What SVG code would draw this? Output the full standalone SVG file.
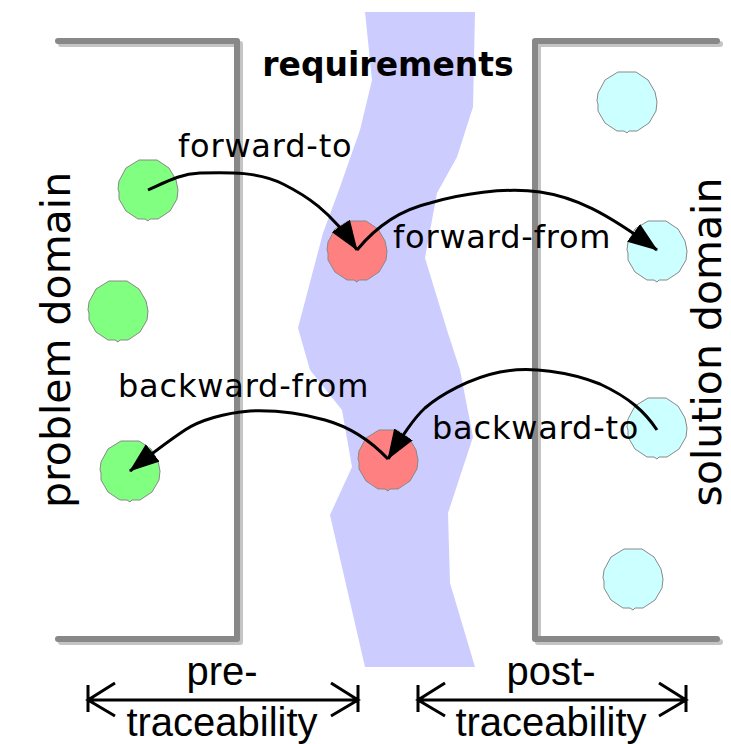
<svg xmlns="http://www.w3.org/2000/svg" width="731" height="744" viewBox="0 0 731 744">
<style>
.bracket{fill:none;stroke:#888;stroke-width:6;stroke-linecap:round;stroke-linejoin:round}
.shadow{fill:none;stroke:#c4c4c4;stroke-width:6;stroke-linecap:round;stroke-linejoin:round}
.conn{fill:none;stroke:#000;stroke-width:3}
.dim{fill:none;stroke:#000;stroke-width:3}
.lbl{font-family:"DejaVu Sans",Verdana,sans-serif;font-size:32px;letter-spacing:0.8px;fill:#000}
.side{font-family:"DejaVu Sans",Verdana,sans-serif;font-size:41px;fill:#000;text-anchor:middle}
.dimt{font-family:"Liberation Sans",Arial,sans-serif;font-size:40px;fill:#000;text-anchor:middle}
.green{fill:#80ff80}
.red{fill:#ff8080}
.cyan{fill:#ccffff}
</style>
<defs>
<path id="blob" stroke="#888" stroke-width="1" d="M-9,-30 L9,-30 L21,-22 L28,-10 L30,0 L29,9 L22,21 L10,29 L2,29 L0,31 L-3,29 L-10,29 L-22,21 L-29,9 L-29,2 L-30,-1 L-29,-9 L-22,-22 Z"/>
<marker id="ah" markerUnits="userSpaceOnUse" markerWidth="32" markerHeight="24" refX="29" refY="11" orient="auto">
<path d="M0,0 L30,11 L0,22 Z" fill="#000"/>
</marker>
</defs>
<g id="river">
<polygon fill="#ccccff" points="365,12 475,12 473,107 457,157 437,193 425,258 447,330 460,370 473,437 448,513 450,583 475,667 365,667 330,515 352,467 342,410 310,370 298,328 323,233 340,187 360,130 372,80"/>
</g>
<g id="problem-domain-frame">
<path class="shadow" d="M61,44 H240 V642 H61"/>
<path class="bracket" d="M58,41 H237 V639 H58"/>
</g>
<g id="solution-domain-frame">
<path class="shadow" d="M720,44 H538 V642 H720"/>
<path class="bracket" d="M717,41 H535 V639 H717"/>
</g>
<g id="title">
<text x="388" y="76" font-family="DejaVu Sans,Verdana,sans-serif" font-size="33" font-weight="bold" text-anchor="middle">requirements</text>
</g>
<g id="side-labels">
<text class="side" transform="translate(70,340) rotate(-90)">problem domain</text>
<text class="side" transform="translate(721,342) rotate(-90)">solution domain</text>
</g>
<g id="p1"><use href="#blob" class="green" x="148" y="190"/></g>
<g id="p2"><use href="#blob" class="green" x="118" y="311"/></g>
<g id="p3"><use href="#blob" class="green" x="130" y="471"/></g>
<g id="r1"><use href="#blob" class="red" x="357" y="251"/></g>
<g id="r2"><use href="#blob" class="red" x="388" y="460"/></g>
<g id="s1"><use href="#blob" class="cyan" x="627" y="102"/></g>
<g id="s2"><use href="#blob" class="cyan" x="657" y="251"/></g>
<g id="s3"><use href="#blob" class="cyan" x="657" y="428"/></g>
<g id="s4"><use href="#blob" class="cyan" x="633" y="579"/></g>
<g id="connectors">
<path class="conn" marker-end="url(#ah)" d="M148,190 C168,181 180,174 200,173 C230,172 260,172 283,184 C305,195 330,210 357,250"/>
<path class="conn" marker-end="url(#ah)" d="M357,250 C375,228 400,210 430,203 C460,194 505,187 540,192 C575,197 605,212 657,250"/>
<path class="conn" marker-end="url(#ah)" d="M657,430 C645,412 630,398 600,384 C570,372 530,366 500,372 C470,378 440,395 425,408 C412,420 400,440 388,459"/>
<path class="conn" marker-end="url(#ah)" d="M388,459 C370,440 350,427 325,420 C300,413 275,410 250,411 C225,413 200,420 185,430 C170,440 150,455 130,471"/>
</g>
<g id="connector-labels">
<text class="lbl" x="178" y="157">forward-to</text>
<text class="lbl" x="393" y="248">forward-from</text>
<text class="lbl" x="118" y="397">backward-from</text>
<text class="lbl" x="432" y="439">backward-to</text>
</g>
<g id="pre-traceability">
<path class="dim" d="M88,685 V712 M358,685 V712 M88,700 H358 M115,683 L88,700 L115,716 M331,683 L358,700 L331,716"/>
<text class="dimt" x="222" y="685">pre-</text>
<text class="dimt" x="222" y="736">traceability</text>
</g>
<g id="post-traceability">
<path class="dim" d="M418,685 V712 M686,685 V712 M418,700 H686 M445,683 L418,700 L445,716 M659,683 L686,700 L659,716"/>
<text class="dimt" x="551" y="685">post-</text>
<text class="dimt" x="551" y="736">traceability</text>
</g>
</svg>
